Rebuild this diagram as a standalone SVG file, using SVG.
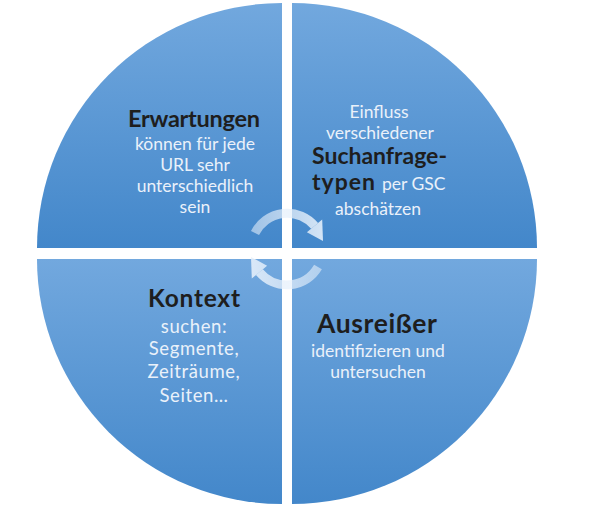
<svg xmlns="http://www.w3.org/2000/svg" width="600" height="506" viewBox="0 0 600 506">
  <defs>
    <linearGradient id="qg" x1="0" y1="0" x2="0" y2="1">
      <stop offset="0" stop-color="#72a8de"/>
      <stop offset="1" stop-color="#4387ca"/>
    </linearGradient>
    <linearGradient id="agTop" gradientUnits="userSpaceOnUse" x1="250" y1="0" x2="326" y2="0">
      <stop offset="0" stop-color="#e6f0fb" stop-opacity="0.55"/>
      <stop offset="1" stop-color="#e6f0fb" stop-opacity="0.9"/>
    </linearGradient>
    <linearGradient id="agBot" gradientUnits="userSpaceOnUse" x1="324" y1="0" x2="249" y2="0">
      <stop offset="0" stop-color="#e6f0fb" stop-opacity="0.55"/>
      <stop offset="1" stop-color="#e6f0fb" stop-opacity="0.9"/>
    </linearGradient>
  </defs>
  <style>
    .q { fill: url(#qg); }
    .t { font-family: Lato, "Liberation Sans", sans-serif; text-anchor: middle; }
    .s { font-family: Lato, "Liberation Sans", sans-serif; text-anchor: start; }
    .h { font-weight: bold; fill: #1e1e1e; }
    .b { fill: #eaf1fa; font-size: 17.5px; }
    .k { font-size: 18.5px; letter-spacing: 0.6px; }
  </style>
  <rect width="600" height="506" fill="#ffffff"/>

  <g id="q-erwartungen">
    <path class="q" d="M282,248 L37,248 A245,245 0 0 1 282,3 Z"/>
    <text class="t h" x="194" y="127" font-size="23.5" textLength="132" lengthAdjust="spacing">Erwartungen</text>
    <text class="t b" x="195" y="150">können für jede</text>
    <text class="t b" x="195" y="171">URL sehr</text>
    <text class="t b" x="195" y="192">unterschiedlich</text>
    <text class="t b" x="195" y="213">sein</text>
  </g>

  <g id="q-suchanfragetypen">
    <path class="q" d="M292,248 L292,3 A245,245 0 0 1 537,248 Z"/>
    <text class="t b" x="379" y="118">Einfluss</text>
    <text class="t b" x="380" y="139">verschiedener</text>
    <text class="t h" x="379.5" y="164" font-size="23" textLength="135" lengthAdjust="spacing">Suchanfrage-</text>
    <text class="s h" x="312" y="190" font-size="23" textLength="63" lengthAdjust="spacing">typen</text>
    <text class="s b" x="382" y="190">per GSC</text>
    <text class="t b" x="378" y="215">abschätzen</text>
  </g>

  <g id="q-kontext">
    <path class="q" d="M282,259 L282,504 A245,245 0 0 1 37,259 Z"/>
    <text class="t h" x="194" y="307" font-size="24.5" textLength="92" lengthAdjust="spacing">Kontext</text>
    <text class="t b k" x="194" y="333">suchen:</text>
    <text class="t b k" x="194" y="355">Segmente,</text>
    <text class="t b k" x="194" y="378">Zeiträume,</text>
    <text class="t b k" x="194" y="402">Seiten…</text>
  </g>

  <g id="q-ausreisser">
    <path class="q" d="M292,259 L537,259 A245,245 0 0 1 292,504 Z"/>
    <text class="t h" x="377" y="333" font-size="26.5" textLength="120" lengthAdjust="spacing">Ausreißer</text>
    <text class="t b" x="378" y="357">identifizieren und</text>
    <text class="t b" x="378" y="378">untersuchen</text>
  </g>

  <g id="connectors">
    <path d="M255,233 A36,36 0 0 1 314.6,225.9" fill="none" stroke="url(#agTop)" stroke-width="9"/>
    <polygon points="306.9,232.3 322.2,219.4 323,241" fill="url(#agTop)"/>
    <path d="M318,267 A36,36 0 0 1 259.4,272.1" fill="none" stroke="url(#agBot)" stroke-width="9"/>
    <polygon points="267.1,265.7 251.8,278.6 251,257" fill="url(#agBot)"/>
  </g>
</svg>
